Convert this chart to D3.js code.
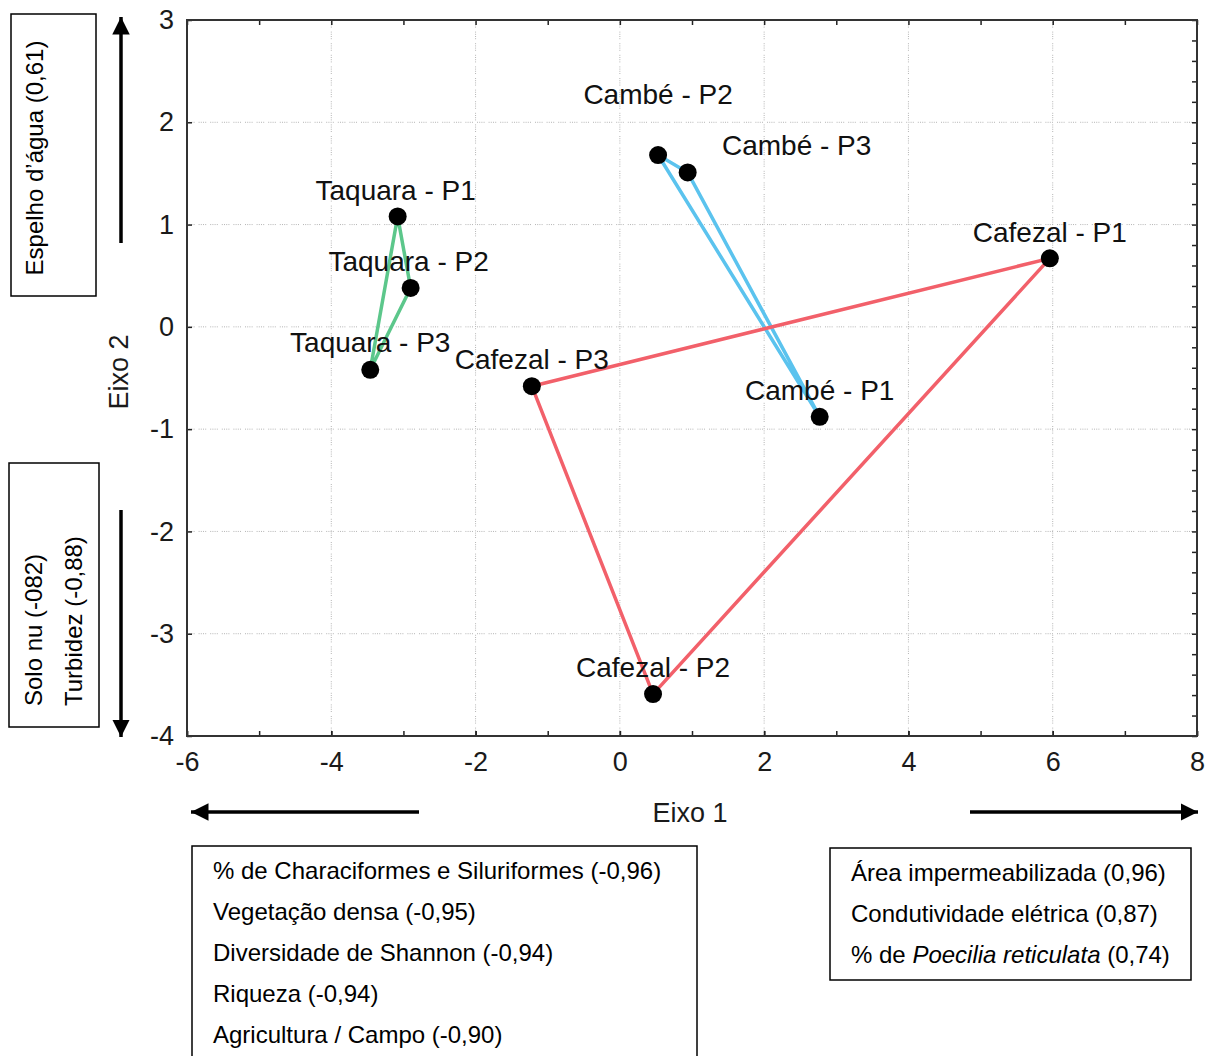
<!DOCTYPE html>
<html lang="pt">
<head>
    <meta charset="UTF-8">
    <title>Eixo 1 x Eixo 2</title>
    <script src="https://d3js.org/d3.v7.min.js"></script>
    <style>
        body { margin: 0; background: #fff; }
        svg { display: block; font-family: "Liberation Sans", Arial, sans-serif; }
    </style>
</head>
<body>
    <div id="container"></div>

    <script>
        // Site scores on the two axes
        const sites = ["Taquara - P1", "Taquara - P2", "Taquara - P3",
                       "Cambé - P1", "Cambé - P2", "Cambé - P3",
                       "Cafezal - P1", "Cafezal - P2", "Cafezal - P3"];
        const groups = ["Taquara", "Taquara", "Taquara",
                        "Cambé", "Cambé", "Cambé",
                        "Cafezal", "Cafezal", "Cafezal"];
        const eixo1 = [-3.08, -2.90, -3.46, 2.77, 0.53, 0.94, 5.96, 0.46, -1.22];
        const eixo2 = [1.08, 0.38, -0.42, -0.88, 1.68, 1.51, 0.67, -3.59, -0.58];

        // Axis ticks
        const xTicks = [-6, -4, -2, 0, 2, 4, 6, 8];
        const yTicks = [3, 2, 1, 0, -1, -2, -3, -4];

        // Loadings written next to the chart
        const leftLoadings = ["% de Characiformes e Siluriformes (-0,96)",
                              "Vegetação densa (-0,95)",
                              "Diversidade de Shannon (-0,94)",
                              "Riqueza (-0,94)",
                              "Agricultura / Campo (-0,90)"];
        const rightLoadings = ["Área impermeabilizada (0,96)",
                               "Condutividade elétrica (0,87)"];
        const topLoadings = ["Espelho d’água (0,61)"];
        const bottomLoadings = ["Solo nu (-082)", "Turbidez (-0,88)"];

        // Layout / styling
        const width = 1214;
        const height = 1056;
        const plot = { left: 187, right: 1197, top: 20, bottom: 736 };
        const groupColor = { "Taquara": "#5cc78b", "Cambé": "#5bc3ee", "Cafezal": "#f2606a" };
        // label offsets (px) from each point
        const labelOffset = [[-2, -16], [-2, -17], [0, -18],
                             [0, -17], [0, -51], [109, -17],
                             [0, -16], [0, -17], [0, -17]];

        const svg = d3.select("#container").append("svg")
            .attr("width", width)
            .attr("height", height);

        svg.append("defs").append("marker")
            .attr("id", "head")
            .attr("viewBox", "0 0 10 10")
            .attr("refX", 10).attr("refY", 5)
            .attr("markerWidth", 5).attr("markerHeight", 5)
            .attr("markerUnits", "strokeWidth")
            .attr("orient", "auto")
            .append("path")
            .attr("d", "M0,0L10,5L0,10Z")
            .attr("fill", "#000");

        const x = d3.scaleLinear().domain([-6, 8]).range([plot.left, plot.right]);
        const y = d3.scaleLinear().domain([-4, 3]).range([plot.bottom, plot.top]);
        const plain = d => String(d);   // hyphen minus, as in the original

        // Grid
        const grid = svg.append("g").attr("stroke", "#b5b5b5").attr("stroke-width", 1)
            .attr("stroke-dasharray", "1 1.2 1 1.2 1 1.2 1 4");
        grid.selectAll(".gx").data(xTicks.filter(d => d > -6 && d < 8)).enter().append("line")
            .attr("x1", d => x(d)).attr("x2", d => x(d))
            .attr("y1", plot.top).attr("y2", plot.bottom);
        grid.selectAll(".gy").data(yTicks.filter(d => d > -4 && d < 3)).enter().append("line")
            .attr("y1", d => y(d)).attr("y2", d => y(d))
            .attr("x1", plot.left).attr("x2", plot.right);

        // Axes with inward ticks
        const tickStyle = g => {
            g.select(".domain").remove();
            g.selectAll(".tick line").attr("stroke", "#222").attr("stroke-width", 1.5);
            g.selectAll("text").attr("fill", "#1a1a1a").attr("font-size", 27);
        };
        svg.append("g").attr("transform", `translate(0,${plot.bottom})`)
            .call(d3.axisBottom(x).tickValues(xTicks).tickSize(-5).tickPadding(16).tickFormat(plain))
            .call(tickStyle);
        svg.append("g").attr("transform", `translate(0,${plot.bottom})`)
            .call(d3.axisBottom(x).ticks(14).tickSize(-5).tickFormat(""))
            .call(tickStyle);
        svg.append("g").attr("transform", `translate(0,${plot.top})`)
            .call(d3.axisTop(x).ticks(14).tickSize(-5).tickFormat(""))
            .call(tickStyle);
        svg.append("g").attr("transform", `translate(${plot.left},0)`)
            .call(d3.axisLeft(y).tickValues(yTicks).tickSize(-5).tickPadding(13).tickFormat(plain))
            .call(tickStyle);
        svg.append("g").attr("transform", `translate(${plot.right},0)`)
            .call(d3.axisRight(y).ticks(28).tickSize(-5).tickFormat(""))
            .call(tickStyle);

        svg.append("rect")
            .attr("x", plot.left).attr("y", plot.top)
            .attr("width", plot.right - plot.left).attr("height", plot.bottom - plot.top)
            .attr("fill", "none").attr("stroke", "#333").attr("stroke-width", 2);

        // Axis titles
        svg.append("text").attr("x", 690).attr("y", 822)
            .attr("text-anchor", "middle").attr("font-size", 27).attr("fill", "#1a1a1a")
            .text("Eixo 1");
        svg.append("text").attr("transform", "translate(128,372) rotate(-90)")
            .attr("text-anchor", "middle").attr("font-size", 27).attr("fill", "#1a1a1a")
            .text("Eixo 2");

        // Group outlines
        const idx = d3.range(sites.length);
        const line = d3.line().x(i => x(eixo1[i])).y(i => y(eixo2[i]));
        ["Taquara", "Cambé", "Cafezal"].forEach(g => {
            const members = idx.filter(i => groups[i] === g);
            svg.append("path")
                .attr("d", line(members.concat(members[0])))
                .attr("fill", "none")
                .attr("stroke", groupColor[g])
                .attr("stroke-width", 3.5)
                .attr("stroke-linejoin", "round");
        });

        // Points
        svg.selectAll(".pt").data(idx).enter().append("circle")
            .attr("cx", i => x(eixo1[i]))
            .attr("cy", i => y(eixo2[i]))
            .attr("r", 9)
            .attr("fill", "#000");

        // Point labels
        svg.selectAll(".lbl").data(idx).enter().append("text")
            .attr("x", i => x(eixo1[i]) + labelOffset[i][0])
            .attr("y", i => y(eixo2[i]) + labelOffset[i][1])
            .attr("text-anchor", "middle")
            .attr("font-size", 28)
            .attr("fill", "#111")
            .text(i => sites[i]);

        // Direction arrows
        const arrow = (x1, y1, x2, y2) => svg.append("line")
            .attr("x1", x1).attr("y1", y1).attr("x2", x2).attr("y2", y2)
            .attr("stroke", "#000").attr("stroke-width", 3.5)
            .attr("marker-end", "url(#head)");
        arrow(121, 243, 121, 17);
        arrow(121, 510, 121, 737);
        arrow(419, 812, 191, 812);
        arrow(970, 812, 1198, 812);

        // Loading boxes
        const box = (bx, by, bw, bh) => svg.append("rect")
            .attr("x", bx).attr("y", by).attr("width", bw).attr("height", bh)
            .attr("fill", "none").attr("stroke", "#000").attr("stroke-width", 1.5);

        box(11, 14, 85, 282);
        svg.append("text").attr("transform", "translate(43,158) rotate(-90)")
            .attr("text-anchor", "middle").attr("font-size", 24)
            .text(topLoadings[0]);

        box(9, 463, 90, 264);
        svg.selectAll(".bl").data(bottomLoadings).enter().append("text")
            .attr("transform", (d, i) => `translate(${42 + i * 40},706) rotate(-90)`)
            .attr("font-size", 24)
            .text(d => d);

        box(192, 846, 505, 220);
        svg.selectAll(".ll").data(leftLoadings).enter().append("text")
            .attr("x", 213).attr("y", (d, i) => 879 + i * 41)
            .attr("font-size", 24)
            .text(d => d);

        box(830, 848, 361, 132);
        svg.selectAll(".rl").data(rightLoadings).enter().append("text")
            .attr("x", 851).attr("y", (d, i) => 881 + i * 41)
            .attr("font-size", 24)
            .text(d => d);
        const last = svg.append("text").attr("x", 851).attr("y", 881 + 2 * 41).attr("font-size", 24);
        last.append("tspan").text("% de ");
        last.append("tspan").attr("font-style", "italic").text("Poecilia reticulata");
        last.append("tspan").text(" (0,74)");
    </script>
</body>
</html>
